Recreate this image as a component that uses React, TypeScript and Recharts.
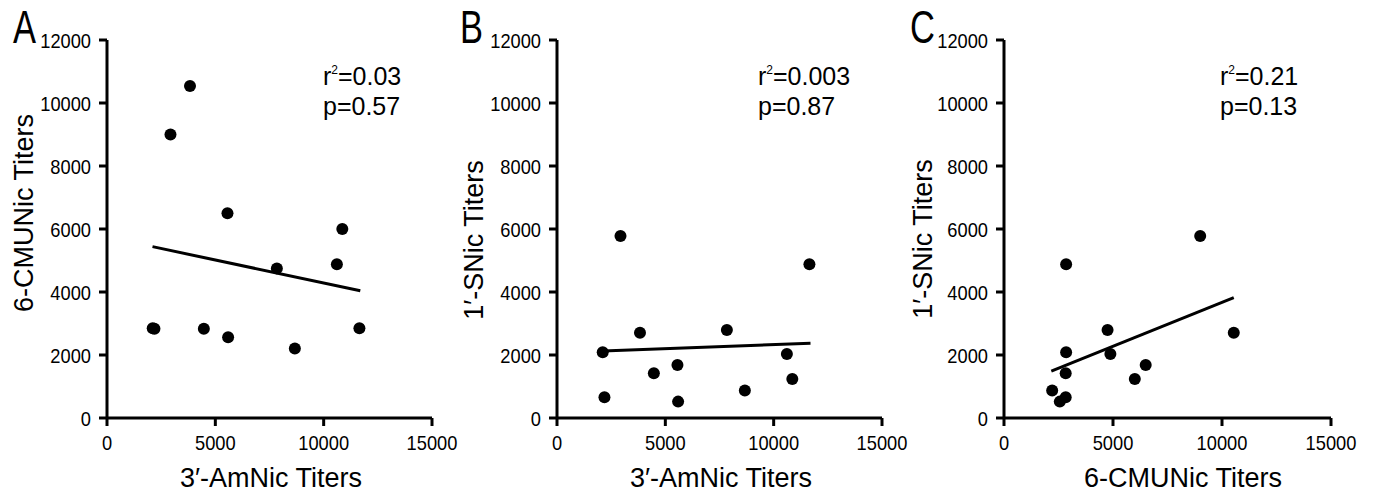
import React from 'react';
import { ScatterChart, Scatter, XAxis, YAxis, Label } from 'recharts';

// Per-subject titers (12 subjects)
const amNic = [2110, 2190, 2930, 3830, 4470, 5560, 5590, 7840, 8670, 10610, 10860, 11650];
const cmuNic = [2850, 2830, 9000, 10540, 2830, 6500, 2560, 4750, 2210, 4880, 6000, 2850];
const sNic = [2090, 660, 5780, 2710, 1420, 1680, 520, 2790, 870, 2030, 1240, 4880];

// Regression line endpoints
const fitAx = [2100, 11690];
const fitAy = [5440, 4040];
const fitBx = [2110, 11700];
const fitBy = [2130, 2370];
const fitCx = [2170, 10540];
const fitCy = [1490, 3820];

const xTicks = [0, 5000, 10000, 15000];
const yTicks = [0, 2000, 4000, 6000, 8000, 10000, 12000];

const stats = [
  { letter: 'A', r2: '=0.03', p: 'p=0.57' },
  { letter: 'B', r2: '=0.003', p: 'p=0.87' },
  { letter: 'C', r2: '=0.21', p: 'p=0.13' },
];

const FONT = "'Liberation Sans', Arial, Helvetica, sans-serif";

const zip = (xs: number[], ys: number[]) => xs.map((x, i) => ({ x, y: ys[i] }));

const XTick = (props: any) => {
  const { x, y, payload } = props;
  return (
    <g transform={`translate(${x},${y})`}>
      <text transform="scale(0.87,1)" textAnchor="middle" y={22} fontSize={21} fontFamily={FONT} fill="#000">
        {payload.value}
      </text>
    </g>
  );
};

const YTick = (props: any) => {
  const { x, y, payload } = props;
  return (
    <g transform={`translate(${x - 6},${y})`}>
      <text transform="scale(0.87,1)" textAnchor="end" y={7.5} fontSize={21} fontFamily={FONT} fill="#000">
        {payload.value}
      </text>
    </g>
  );
};

const Dot = (props: any) => <circle cx={props.cx} cy={props.cy} r={6} fill="#000" />;
const NoDot = () => <g />;

type PanelProps = {
  left: number;
  width: number;
  yWidth: number;
  right: number;
  points: { x: number; y: number }[];
  fit: { x: number; y: number }[];
  xTitle: string;
  yTitle: string;
  xTitleX: number;
  yTitleY: number;
  yTitleX: number;
};

const Panel = (p: PanelProps) => (
  <div style={{ position: 'absolute', left: p.left, top: 0 }}>
    <ScatterChart width={p.width} height={500} margin={{ top: 40, right: p.right, bottom: 0, left: 0 }}>
      <XAxis
        type="number"
        dataKey="x"
        domain={[0, 15000]}
        ticks={xTicks}
        interval={0}
        height={82}
        tickSize={8}
        tick={<XTick />}
        axisLine={{ stroke: '#000', strokeWidth: 3 }}
        tickLine={{ stroke: '#000', strokeWidth: 3 }}
      >
        <Label
          content={() => (
            <text x={p.xTitleX} y={487} textAnchor="middle" fontSize={27} fontFamily={FONT} fill="#000">
              {p.xTitle}
            </text>
          )}
        />
      </XAxis>
      <YAxis
        type="number"
        dataKey="y"
        domain={[0, 12000]}
        ticks={yTicks}
        interval={0}
        width={p.yWidth}
        tickSize={8}
        tick={<YTick />}
        axisLine={{ stroke: '#000', strokeWidth: 3 }}
        tickLine={{ stroke: '#000', strokeWidth: 3 }}
      >
        <Label
          content={() => (
            <text
              x={p.yTitleX}
              y={p.yTitleY}
              transform={`rotate(-90 ${p.yTitleX} ${p.yTitleY})`}
              textAnchor="middle"
              fontSize={27}
              fontFamily={FONT}
              fill="#000"
            >
              {p.yTitle}
            </text>
          )}
        />
      </YAxis>
      <Scatter data={p.points} shape={Dot} isAnimationActive={false} />
      <Scatter data={p.fit} shape={NoDot} line={{ stroke: '#000', strokeWidth: 3 }} isAnimationActive={false} />
    </ScatterChart>
  </div>
);

const letterX = [13, 460, 910];
const statX = [323, 758, 1220];

export default function App() {
  return (
    <div style={{ position: 'absolute', left: 0, top: 0, width: 1374, height: 500, background: '#fff' }}>
      <Panel
        left={0}
        width={480}
        yWidth={107}
        right={48}
        points={zip(amNic, cmuNic)}
        fit={zip(fitAx, fitAy)}
        xTitle="3′-AmNic Titers"
        yTitle="6-CMUNic Titers"
        xTitleX={271}
        yTitleX={33}
        yTitleY={213}
      />
      <Panel
        left={450}
        width={480}
        yWidth={107}
        right={48}
        points={zip(amNic, sNic)}
        fit={zip(fitBx, fitBy)}
        xTitle="3′-AmNic Titers"
        yTitle="1′-SNic Titers"
        xTitleX={271}
        yTitleX={33}
        yTitleY={240}
      />
      <Panel
        left={900}
        width={474}
        yWidth={104}
        right={43}
        points={zip(cmuNic, sNic)}
        fit={zip(fitCx, fitCy)}
        xTitle="6-CMUNic Titers"
        yTitle="1′-SNic Titers"
        xTitleX={283}
        yTitleX={32}
        yTitleY={239}
      />
      <svg width={1374} height={500} style={{ position: 'absolute', left: 0, top: 0, pointerEvents: 'none' }}>
        {stats.map((s, i) => (
          <g key={s.letter}>
            <g transform={`translate(${letterX[i]},43)`}>
              <text transform="scale(0.75,1)" x={0} y={0} fontSize={46} fontFamily={FONT} fill="#000">
                {s.letter}
              </text>
            </g>
            <text x={statX[i]} y={85} fontSize={25} fontFamily={FONT} fill="#000">
              r<tspan fontSize={12} dy={-11}>2</tspan>
              <tspan dy={11}>{s.r2}</tspan>
            </text>
            <text x={statX[i]} y={115} fontSize={25} fontFamily={FONT} fill="#000">
              {s.p}
            </text>
          </g>
        ))}
      </svg>
    </div>
  );
}
